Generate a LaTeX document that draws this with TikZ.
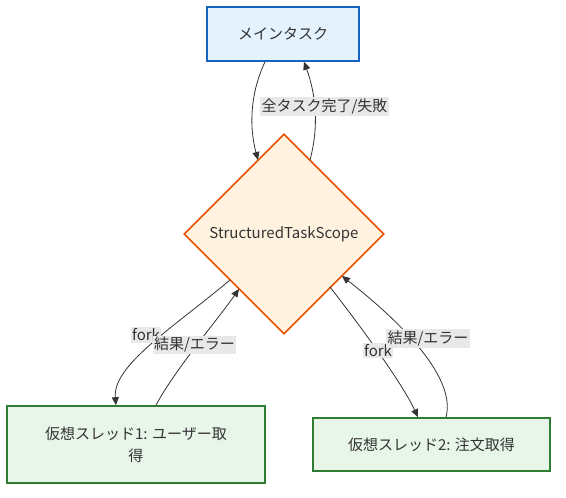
\documentclass[tikz,border=0pt]{standalone}
\usepackage{fontspec}
\newfontfamily\jpfont{Noto Sans CJK JP}
\usepackage{tikz}
\usetikzlibrary{shapes.geometric,calc,arrows.meta}
\definecolor{mainfill}{HTML}{E3F2FD}
\definecolor{mainline}{HTML}{1565C0}
\definecolor{scopefill}{HTML}{FFF3E0}
\definecolor{scopeline}{HTML}{E65100}
\definecolor{vtfill}{HTML}{E8F5E9}
\definecolor{vtline}{HTML}{2E7D32}
\definecolor{ink}{HTML}{333333}
\definecolor{labelbg}{HTML}{E8E8E8}
\tikzset{
	box/.style={draw, line width=1.6pt, text=ink, inner sep=0pt, align=center,
		font=\jpfont\fontsize{15}{22}\selectfont},
	flow/.style={ink, line width=0.8pt, -{Triangle[length=8pt,width=7pt]}},
	elabel/.style={fill=labelbg, text=ink, inner sep=1.5pt,
		font=\jpfont\fontsize{15}{18}\selectfont}
}
\tikzstyle{mainbox}=[box, fill=mainfill, draw=mainline]
\tikzstyle{vtbox}=[box, fill=vtfill, draw=vtline]

\begin{document}
\begin{tikzpicture}[x=1pt, y=1pt]
	\useasboundingbox (0,0) rectangle (566,498);
	\node[mainbox, minimum width=152pt, minimum height=54pt] (main) at (283,464) {メインタスク};
	\node[box, diamond, fill=scopefill, draw=scopeline, minimum width=200pt, minimum height=200pt] (scope) at (284,264) {StructuredTaskScope};
	\node[vtbox, minimum width=258pt, minimum height=77pt] (vt1) at (136,53.5) {仮想スレッド1: ユーザー取\\得};
	\node[vtbox, minimum width=237pt, minimum height=53pt] (vt2) at (431.5,53.5) {仮想スレッド2: 注文取得};
%
	\draw[flow] ($(main.south)+(-18,0)$) .. controls ++(245:35) and ++(105:35) .. ($(scope.center)+(-26,74)$);
	\draw[flow] ($(scope.center)+(26,74)$) .. controls ++(75:35) and ++(-70:35) .. ($(main.south)+(21,0)$);
	\draw[flow] ($(scope.center)+(-54,-46)$) .. controls ++(220:75) and ++(95:40) .. ($(vt1.north)+(-20,0)$);
	\draw[flow] ($(vt1.north)+(20,0)$) .. controls ++(62:40) and ++(235:40) .. ($(scope.center)+(-45,-55)$);
	\draw[flow] ($(scope.center)+(46,-53)$) .. controls ++(-52:40) and ++(115:40) .. ($(vt2.north)+(-13.5,0)$);
	\draw[flow] ($(vt2.north)+(14.5,0)$) .. controls ++(75:45) and ++(-38:60) .. ($(scope.center)+(58,-42)$);
%
	\node[elabel] (done) at (324.5,391.5) {全タスク完了/失敗};
	\node[elabel] (fork1) at (146,163) {fork};
	\node[elabel] (res1) at (194.5,153) {結果/エラー};
	\node[elabel] (fork2) at (378,147.5) {fork};
	\node[elabel] (res2) at (428,159.5) {結果/エラー};
\end{tikzpicture}
\end{document}
